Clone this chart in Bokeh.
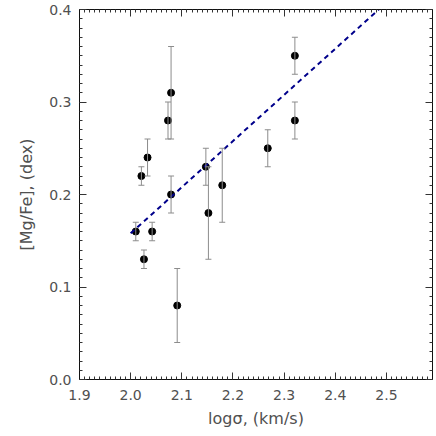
from bokeh.plotting import figure
from bokeh.models import (ColumnDataSource, Whisker, TeeHead, LinearAxis,
                          SingleIntervalTicker, PrintfTickFormatter, Range1d,
                          CustomLabelingPolicy)
from bokeh.embed import file_html
from bokeh.resources import INLINE

# data
log_sigma = [2.010, 2.021, 2.026, 2.033, 2.042, 2.073, 2.079, 2.079, 2.091,
             2.147, 2.152, 2.179, 2.268, 2.321, 2.321]
mgfe      = [0.16, 0.22, 0.13, 0.24, 0.16, 0.28, 0.31, 0.20, 0.08,
             0.23, 0.18, 0.21, 0.25, 0.35, 0.28]
err_lo    = [0.15, 0.21, 0.12, 0.22, 0.15, 0.26, 0.26, 0.18, 0.04,
             0.21, 0.13, 0.17, 0.23, 0.33, 0.26]
err_hi    = [0.17, 0.23, 0.14, 0.26, 0.17, 0.30, 0.36, 0.22, 0.12,
             0.25, 0.23, 0.25, 0.27, 0.37, 0.30]
fit_x = [2.0, 2.485]
fit_y = [0.158, 0.400]

src = ColumnDataSource(dict(x=log_sigma, y=mgfe, lo=err_lo, hi=err_hi))

FONT = "DejaVu Sans"
TXT = "#505050"
AX = "#111111"
TICK = "#333333"

p = figure(width=436, height=436, output_backend="svg", toolbar_location=None,
           x_range=Range1d(1.9, 2.59), y_range=Range1d(0.0, 0.4),
           min_border_left=79, min_border_right=4, min_border_top=9,
           min_border_bottom=57, x_axis_label="logσ, (km/s)",
           y_axis_label="[Mg/Fe], (dex)")
p.grid.visible = False
p.outline_line_color = None
p.background_fill_color = "white"
p.border_fill_color = "white"

p.xaxis.ticker = SingleIntervalTicker(interval=0.1, num_minor_ticks=10)
p.yaxis.ticker = SingleIntervalTicker(interval=0.1, num_minor_ticks=10)
p.xaxis.formatter = PrintfTickFormatter(format="%.1f")
p.yaxis.formatter = PrintfTickFormatter(format="%.1f")


def style(ax):
    ax.axis_line_color = AX
    ax.axis_line_width = 1
    ax.major_tick_line_color = TICK
    ax.minor_tick_line_color = TICK
    ax.major_tick_line_width = 1
    ax.minor_tick_line_width = 1
    ax.major_tick_in = 7
    ax.major_tick_out = 0
    ax.minor_tick_in = 3
    ax.minor_tick_out = 0
    ax.major_label_text_font = FONT
    ax.major_label_text_color = TXT
    ax.major_label_text_font_size = "14px"
    ax.axis_label_text_font = FONT
    ax.axis_label_text_font_style = "normal"
    ax.axis_label_text_color = TXT
    ax.axis_label_text_font_size = "16px"


for ax in p.xaxis + p.yaxis:
    style(ax)
p.xaxis.major_label_standoff = 10
p.xaxis.axis_label_standoff = 6
p.yaxis.major_label_standoff = 8
p.yaxis.axis_label_standoff = 10

hide_all = CustomLabelingPolicy(code="""
    for (const i of indices) {
        indices.unset(i)
    }
    return indices
""")

top = LinearAxis(ticker=SingleIntervalTicker(interval=0.1, num_minor_ticks=10))
right = LinearAxis(ticker=SingleIntervalTicker(interval=0.1, num_minor_ticks=10))
for ax in (top, right):
    style(ax)
    ax.major_label_policy = hide_all
    ax.major_label_text_font_size = "0px"
    ax.major_label_standoff = 0
p.add_layout(top, "above")
p.add_layout(right, "right")

w = Whisker(source=src, base="x", lower="lo", upper="hi",
            line_color="#8c8c8c", line_width=1,
            upper_head=TeeHead(size=6, line_color="#8c8c8c", line_width=1),
            lower_head=TeeHead(size=6, line_color="#8c8c8c", line_width=1))
w.level = "glyph"
p.add_layout(w)

p.scatter("x", "y", source=src, size=7, fill_color="black", line_color="black")
p.line(fit_x, fit_y, line_color="#00008b", line_width=2, line_dash="5 4")

open("out.html", "w").write(file_html(p, INLINE))
